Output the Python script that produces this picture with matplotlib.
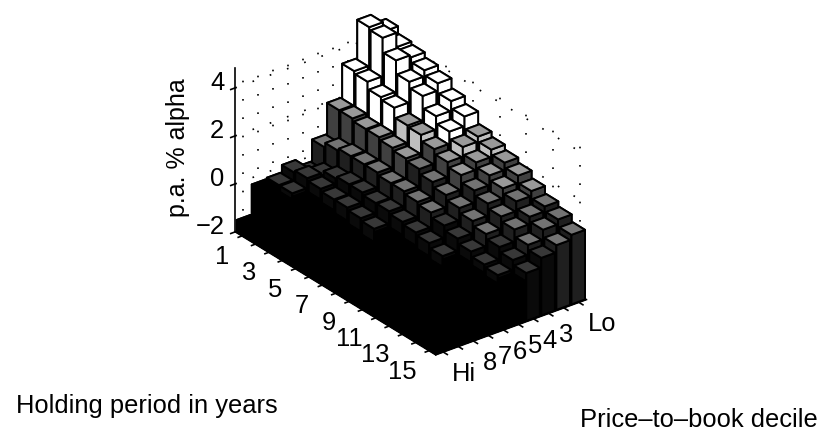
import matplotlib
matplotlib.use("Agg")
import matplotlib.pyplot as plt
from mpl_toolkits.mplot3d import proj3d

plt.rcParams["font.family"] = ["Liberation Sans", "DejaVu Sans"]

# holding period (rows), price-to-book decile Hi -> Lo (columns)
years = list(range(1, 16))
deciles = ["Hi", "", "8", "7", "6", "5", "4", "3", "", "Lo"]
year_labels = [1, 3, 5, 7, 9, 11, 13, 15]
alpha_ticks = [-2, 0, 2, 4]

alpha = [
    [-1.5, -0.25, -0.2, 0.1, -0.2, 0.7, 2.0, 3.4, 5.0, 4.6],
    [-1.5, -0.4, -0.2, 0.2, 0.1, 0.9, 2.0, 3.3, 4.9, 4.3],
    [-1.6, -0.5, -0.3, 0.1, 0.3, 1.0, 1.9, 3.0, 4.3, 4.2],
    [-1.6, -0.6, -0.4, 0.0, 0.4, 1.0, 1.9, 2.9, 3.75, 4.0],
    [-1.7, -0.7, -0.5, 0.0, 0.4, 1.0, 1.8, 2.5, 3.5, 3.8],
    [-1.7, -0.8, -0.6, -0.1, 0.3, 0.9, 1.7, 2.45, 3.0, 3.4],
    [-1.7, -0.9, -0.7, -0.2, 0.3, 0.9, 1.6, 2.2, 2.7, 3.1],
    [-1.8, -1.0, -0.8, -0.3, 0.2, 0.8, 1.4, 2.0, 2.4, 2.6],
    [-1.8, -1.1, -0.9, -0.4, 0.1, 0.7, 1.2, 1.8, 2.1, 2.4],
    [-1.8, -1.1, -1.0, -0.5, 0.0, 0.5, 1.0, 1.5, 1.9, 2.2],
    [-1.8, -1.2, -1.0, -0.6, -0.2, 0.3, 0.8, 1.3, 1.7, 2.0],
    [-1.8, -1.2, -1.1, -0.7, -0.3, 0.1, 0.6, 1.1, 1.5, 1.7],
    [-1.8, -1.3, -1.1, -0.8, -0.4, -0.1, 0.4, 0.9, 1.2, 1.4],
    [-1.8, -1.3, -1.2, -0.9, -0.5, -0.2, 0.2, 0.6, 1.0, 1.2],
    [-1.8, -1.4, -1.2, -1.0, -0.6, -0.3, 0.0, 0.4, 0.7, 0.9],
]


def bar_colors(z):
    # faces: bottom, top, -y, +y, -x, +x
    if z >= 2.65:
        top, side = "white", "white"
    elif z >= 2.4:
        top, side = "0.6", "0.75"
    elif z >= 1.7:
        top, side = "0.6", "0.25"
    elif z >= 0.6:
        top, side = "0.45", "0.12"
    elif z >= -0.2:
        top, side = "0.22", "0.04"
    else:
        top, side = "0.0", "0.0"
    return [side, top, side, side, side, side]


def tick_label(x, y, z, s, dx, dy, ha):
    # 3D point to 2D, then shift by pixels
    px, py, _ = proj3d.proj_transform(x, y, z, ax.get_proj())
    ax.annotate(s, xy=(px, py), xytext=(dx, dy), textcoords="offset pixels",
                fontsize=18.4, ha=ha, va="center")


fig = plt.figure(figsize=(8.22, 4.34), dpi=100)
ax = fig.add_axes([-6 / 822, 27.5 / 434, 1, 1], projection="3d", proj_type="ortho")
ax.computed_zorder = False
ax.view_init(elev=28.3, azim=-37.7)
ax.set_box_aspect((327, 190, 186), zoom=0.945)
ax.set_xlim(0.5, 15.5)
ax.set_ylim(-0.5, 9.5)
ax.set_zlim(-2, 4.84)
ax.set_xticks([])
ax.set_yticks([])
ax.set_zticks([])
ax.set_axis_off()

# dotted back walls
dots = dict(color="black", lw=1.2, ls=(0, (1, 10)), zorder=1)
for z in alpha_ticks:
    ax.plot([0.5, 0.5], [-0.5, 9.5], [z, z], **dots)
    ax.plot([0.5, 15.5], [9.5, 9.5], [z, z], **dots)
for k in range(len(deciles)):
    ax.plot([0.5, 0.5], [k, k], [-2, 4.84], **dots)
for yr in years[::2]:
    ax.plot([yr, yr], [9.5, 9.5], [-2, 4.84], **dots)

# bars back to front, so each one paints over the last
order = 2
for i, yr in enumerate(years):
    for j in range(len(deciles) - 1, -1, -1):
        z = alpha[i][j]
        ax.bar3d(yr - 0.45, j - 0.45, -2, 0.9, 0.9, z + 2, color=bar_colors(z),
                 shade=False, edgecolor="black", linewidth=1.4, zorder=order)
        order += 1

# axis lines and ticks
line = dict(color="black", lw=1.2, zorder=order)
ax.plot([0.5, 0.5], [-0.5, -0.5], [-2, 4.84], **line)
ax.plot([0.5, 15.5], [-0.5, -0.5], [-2, -2], **line)
ax.plot([15.5, 15.5], [-0.5, 9.5], [-2, -2], **line)
for z in alpha_ticks:
    ax.plot([0.5, 0.5], [-0.5, -0.8], [z, z], **line)
    tick_label(0.5, -0.5, z, str(z).replace("-", "\u2212"), -11, 5, "right")
for yr in years:
    ax.plot([yr, yr], [-0.5, -0.75], [-2, -2], **line)
for yr in year_labels:
    tick_label(yr, -0.5, -2, str(yr), -13, -21, "right")
for k, lab in enumerate(deciles):
    ax.plot([15.5, 15.8], [k, k], [-2, -2], **line)
    if lab:
        tick_label(15.5, k, -2, lab, 9, -22, "left")

fig.text(178 / 822, 1 - 148 / 434, "p.a. % alpha", fontsize=18, rotation=90, ha="center", va="center")
fig.text(16 / 822, 1 - 413 / 434, "Holding period in years", fontsize=18.4, ha="left", va="baseline")
fig.text(580 / 822, 1 - 427 / 434, "Price\u2013to\u2013book decile", fontsize=18.4, ha="left", va="baseline")

fig.savefig("out.png", dpi=100)
